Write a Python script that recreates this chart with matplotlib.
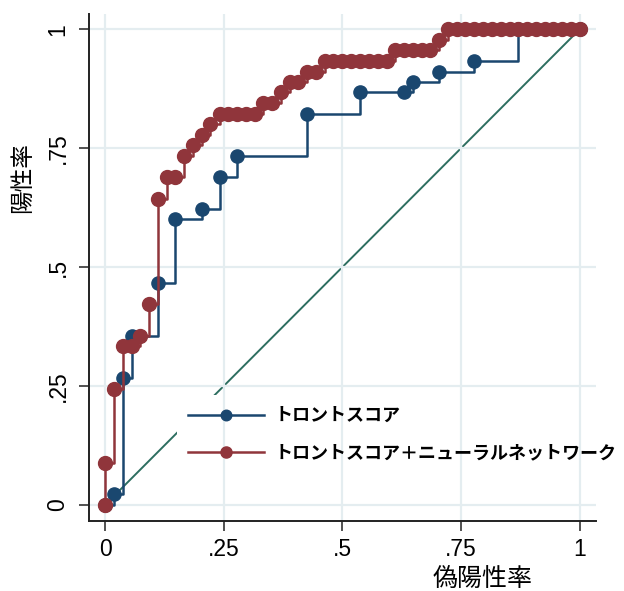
"""ROC curves: Toronto score vs Toronto score + neural network."""
import matplotlib
matplotlib.use("Agg")
import matplotlib.pyplot as plt  # noqa: E402
from matplotlib.patches import Rectangle  # noqa: E402

# --- data (false positive rate, true positive rate)
fpr_toronto = [0, .019, .037, .056, .111, .148, .204, .241, .278, .426,
               .537, .630, .648, .704, .778, .870, 1]
tpr_toronto = [0, .022, .267, .356, .467, .600, .622, .689, .733, .822,
               .867, .867, .889, .911, .933, 1, 1]

fpr_nn = [0, 0, .019, .037, .056, .074, .093, .111, .130, .148, .167, .185,
          .204, .222, .241, .259, .278, .296, .315, .333, .352, .370, .389,
          .407, .426, .444, .463, .481, .500, .519, .537, .556, .574, .593,
          .611, .630, .648, .667, .685, .704, .722, .741, .759, .778, .796,
          .815, .833, .852, .870, .889, .907, .926, .944, .963, .981, 1]
tpr_nn = [0, .089, .244, .333, .333, .356, .422, .644, .689, .689, .733, .756,
          .778, .800, .822, .822, .822, .822, .822, .844, .844, .867, .889,
          .889, .911, .911, .933, .933, .933, .933, .933, .933, .933, .933,
          .956, .956, .956, .956, .956, .978, 1, 1, 1, 1, 1,
          1, 1, 1, 1, 1, 1, 1, 1, 1, 1, 1]

ticks = [0, .25, .5, .75, 1]
tick_labels = ["0", ".25", ".5", ".75", "1"]
lab_toronto = "トロントスコア"
lab_nn = "トロントスコア＋ニューラルネットワーク"

BLUE = "#1a476f"
RED = "#90353b"
DIAG = "#2d6e60"
GRID = "#e4edf0"
JP = ["Noto Sans CJK JP", "DejaVu Sans"]

plt.rcParams["font.family"] = ["Liberation Sans", "DejaVu Sans"]

fig = plt.figure(figsize=(6.24, 5.91), dpi=100)
ax = fig.add_axes([0.1426, 0.1184, 0.8124, 0.8579])

ax.plot([0, 1], [0, 1], color=DIAG, lw=1.4, zorder=0.3)
ax.plot(fpr_toronto, tpr_toronto, drawstyle="steps-post", color=BLUE, lw=1.8,
        marker="o", ms=9.5, label=lab_toronto, zorder=2)
ax.plot(fpr_nn, tpr_nn, drawstyle="steps-post", color=RED, lw=1.8,
        marker="o", ms=10, label=lab_nn, zorder=3)

ax.set_xlim(-0.034, 1.034)
ax.set_ylim(-0.034, 1.032)
ax.set_xticks(ticks, tick_labels)
ax.set_yticks(ticks, tick_labels)
ax.tick_params(labelsize=16.5, length=7, width=1.1, color="#222222")
ax.tick_params(axis="x", pad=5)
ax.tick_params(axis="y", pad=7)
for t in ax.get_yticklabels():
    t.set_rotation(90)
    t.set_va("center")

for s in ("top", "right"):
    ax.spines[s].set_visible(False)
for s in ("left", "bottom"):
    ax.spines[s].set_linewidth(1.4)
    ax.spines[s].set_color("#222222")

ax.set_axisbelow(True)
ax.grid(color=GRID, lw=1.6)

ax.set_xlabel("偽陽性率", family=JP, fontsize=18)
ax.xaxis.set_label_coords(0.777, -0.088)
ax.set_ylabel("陽性率", family=JP, fontsize=17)
ax.yaxis.set_label_coords(-0.108, 0.677)

leg = ax.legend(loc="upper left", bbox_to_anchor=(0.1736, 0.2485),
                borderaxespad=0, prop={"family": JP, "weight": "bold",
                                       "size": 13},
                handlelength=4.2, handletextpad=0.6, borderpad=0.6,
                labelspacing=1.0, markerscale=0.8, frameon=False)
for h in leg.legend_handles:
    h.set_drawstyle("default")

# white box behind the legend: hides the diagonal, the grid stays on top
fig.canvas.draw()
bb = leg.get_window_extent().transformed(ax.transAxes.inverted())
ax.add_patch(Rectangle((bb.x0, bb.y0), bb.width, bb.height,
                       transform=ax.transAxes, facecolor="white",
                       edgecolor="none", zorder=0.4, clip_on=False))

fig.savefig("out.png", dpi=100)
